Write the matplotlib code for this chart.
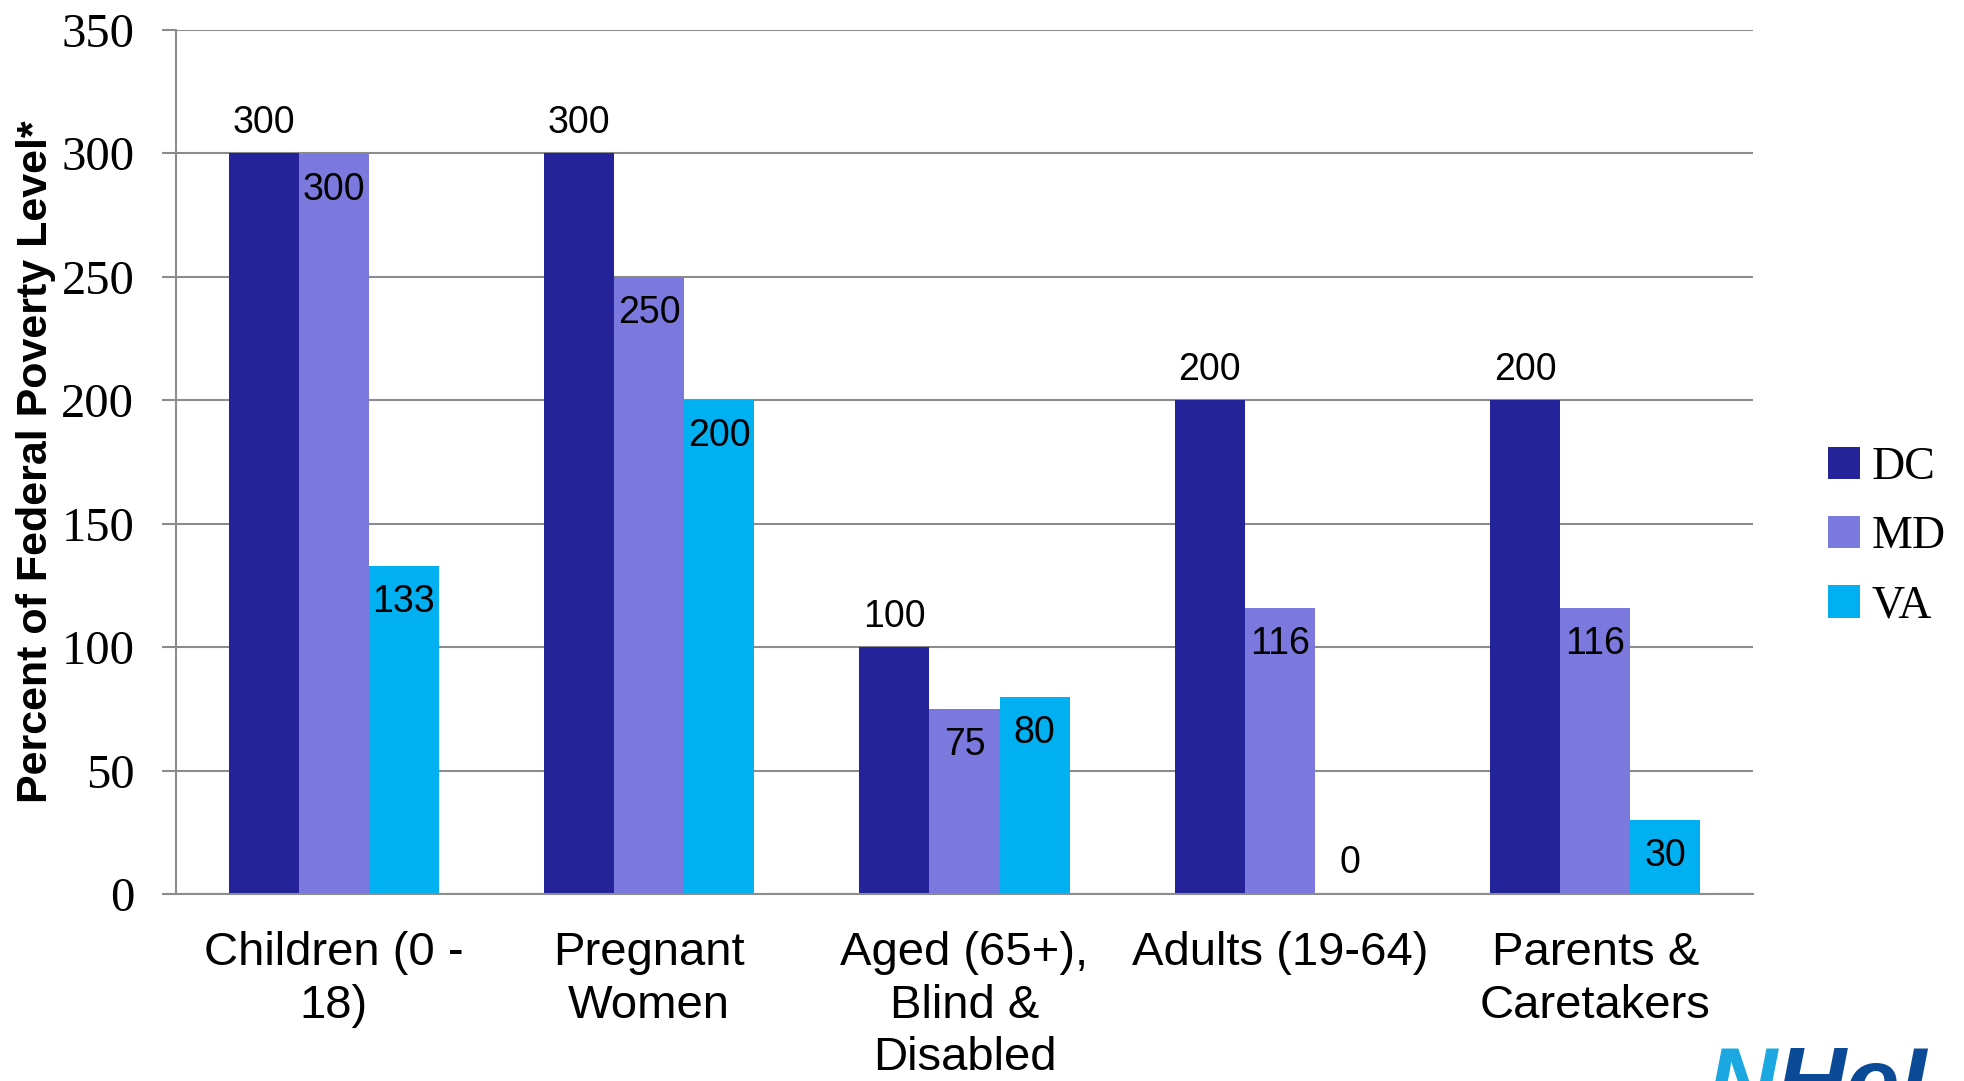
import numpy as np
import matplotlib.pyplot as plt

categories = ['Children (0 -\n18)', 'Pregnant\nWomen', 'Aged (65+),\nBlind &\nDisabled',
              'Adults (19-64)', 'Parents &\nCaretakers']
dc = [300, 300, 100, 200, 200]
md = [300, 250, 75, 116, 116]
va = [133, 200, 80, 0, 30]

series = [('DC', dc, '#24239A'), ('MD', md, '#7B79DD'), ('VA', va, '#00B0F0')]

fig = plt.figure(figsize=(19.64, 10.81), dpi=100)
ax = fig.add_axes([0.0896, 0.1730, 0.8030, 0.7992])

x = np.arange(len(categories))
width = 2 / 9
grid_c = '#8C8C8C'

for i, (name, vals, color) in enumerate(series):
    pos = x + (i - 1) * width
    ax.bar(pos, vals, width, color=color, label=name, zorder=2)
    for px, v in zip(pos, vals):
        # DC labels (and empty bars) sit above the bar, the rest just inside the top
        if i == 0 or v == 0:
            off = 22
        else:
            off = -26
        ax.annotate(str(v), (px, v), xytext=(0, off), textcoords='offset points',
                    ha='center', va='center', fontsize=27,
                    family='Liberation Sans', zorder=3)

ax.set_xlim(-0.5, len(categories) - 0.5)
ax.set_ylim(0, 350)
ax.set_yticks(range(0, 351, 50))
ax.set_yticklabels([str(t) for t in range(0, 351, 50)],
                   family='Liberation Serif', fontsize=35)
ax.set_xticks(x)
ax.set_xticklabels(categories, family='Liberation Sans', fontsize=34,
                   linespacing=1.25, va='top')
ax.tick_params(axis='x', length=0, pad=27)
ax.tick_params(axis='y', length=10, width=1.5, color=grid_c, pad=20)

ax.yaxis.grid(True, color=grid_c, linewidth=1.5, zorder=0)
ax.set_axisbelow(True)
for side in ['top', 'right']:
    ax.spines[side].set_visible(False)
for side in ['left', 'bottom']:
    ax.spines[side].set_color(grid_c)
    ax.spines[side].set_linewidth(1.5)

ax.set_ylabel('Percent of Federal Poverty Level*', family='Liberation Sans',
              fontsize=31, fontweight='bold')
ax.yaxis.set_label_coords(-0.076, 0.5)

leg = ax.legend(loc='center left', bbox_to_anchor=(1.036, 0.413), frameon=False,
                prop={'family': 'Liberation Serif', 'size': 33},
                handlelength=0.7, handleheight=0.7, handletextpad=0.25,
                labelspacing=0.58, borderaxespad=0)

# logo at the bottom-right corner
fig.text(0.869, -0.031, 'N', color='#1BA8E0', fontsize=70, fontweight='bold',
         style='italic', family='Liberation Sans', va='baseline')
fig.text(0.904, -0.031, 'HeLP', color='#0B4A96', fontsize=70, fontweight='bold',
         style='italic', family='Liberation Sans', va='baseline')

fig.savefig('out.png', dpi=100)
